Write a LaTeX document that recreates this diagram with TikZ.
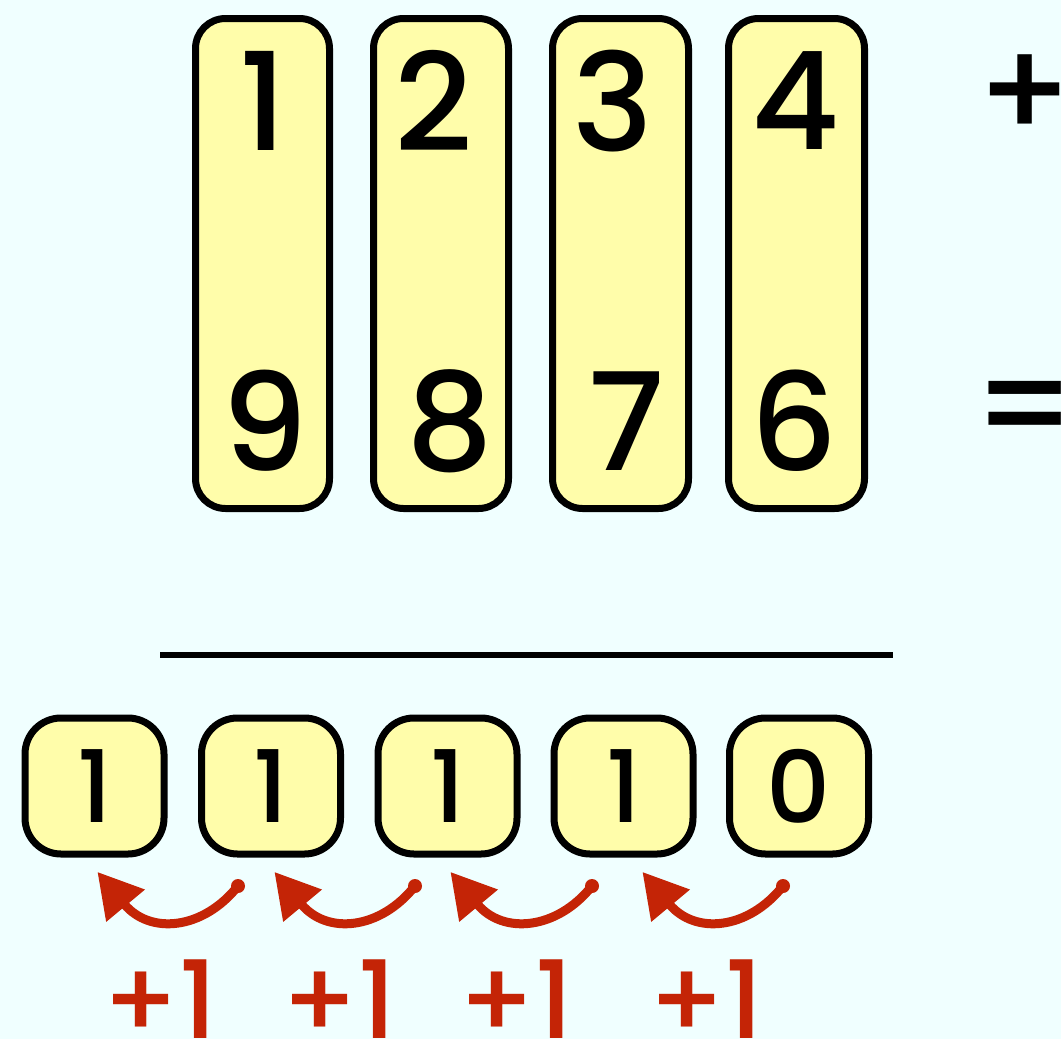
\documentclass[tikz,border=0pt]{standalone}
\usepackage{fontspec}
\setmainfont{Poppins Medium}
\usetikzlibrary{arrows.meta}
\definecolor{bgc}{HTML}{F0FFFF}
\definecolor{boxc}{HTML}{FFFDAA}
\definecolor{carryc}{HTML}{C42406}
\tikzset{
  colbox/.style={draw=black, line width=7pt, fill=boxc, rounded corners=30pt},
  resbox/.style={draw=black, line width=7pt, fill=boxc, rounded corners=36pt, minimum width=139pt, minimum height=136pt, inner sep=0pt,
     font=\fontsize{100}{100}\selectfont},
  digit/.style={inner sep=0pt, font=\fontsize{136}{136}\selectfont},
  carry/.style={draw=carryc, line width=9pt, -{Triangle[length=44pt,width=48pt]}, shorten >=-4pt},
  carrylbl/.style={inner sep=0pt, text=carryc, font=\fontsize{108}{108}\selectfont, anchor=base},
}
\begin{document}
\begin{tikzpicture}[x=1pt,y=-1pt]
\useasboundingbox[fill=bgc] (0,0) rectangle (1061,1039);
% column boxes
\draw[colbox] (195.5,18.5) rectangle (329.5,508.5);
\draw[colbox] (373.5,18.5) rectangle (508.5,508.5);
\draw[colbox] (552.5,18.5) rectangle (688.5,508.5);
\draw[colbox] (728.5,18.5) rectangle (864.5,508.5);
\node[digit] (a1) at (263,101) {1};
\node[digit] (a2) at (434,101) {2};
\node[digit] (a3) at (613,101) {3};
\node[digit] (a4) at (795,101) {4};
\node[digit] (b1) at (265,421) {9};
\node[digit] (b2) at (450,421) {8};
\node[digit] (b3) at (627,421) {7};
\node[digit] (b4) at (794,421) {6};
\node[digit] (plus) at (1025,97) {+};
\node[digit] (eq) at (1025,417) {=};
% rule
\draw[line width=6pt] (160,655) -- (893,655);
% result boxes
\node[resbox] (r1) at (94.5,786) {1};
\node[resbox] (r2) at (271,786) {1};
\node[resbox] (r3) at (447.5,786) {1};
\node[resbox] (r4) at (623.5,786) {1};
\node[resbox] (r5) at (799,786) {0};
% carries
\foreach \t/\h in {238/100, 415/277, 592/453, 783/645}{
  \coordinate (t\t) at (\t,886);
  \coordinate (h\t) at (\h,875);
  \fill[carryc] (t\t) circle (7pt);
  \draw[carry] (t\t) .. controls (\t-35,930) and (\h+50,935) .. (h\t);
}
\node[carrylbl] (c1) at (160,1038) {+1};
\node[carrylbl] (c2) at (339,1038) {+1};
\node[carrylbl] (c3) at (516,1038) {+1};
\node[carrylbl] (c4) at (706,1038) {+1};
\end{tikzpicture}
\end{document}
